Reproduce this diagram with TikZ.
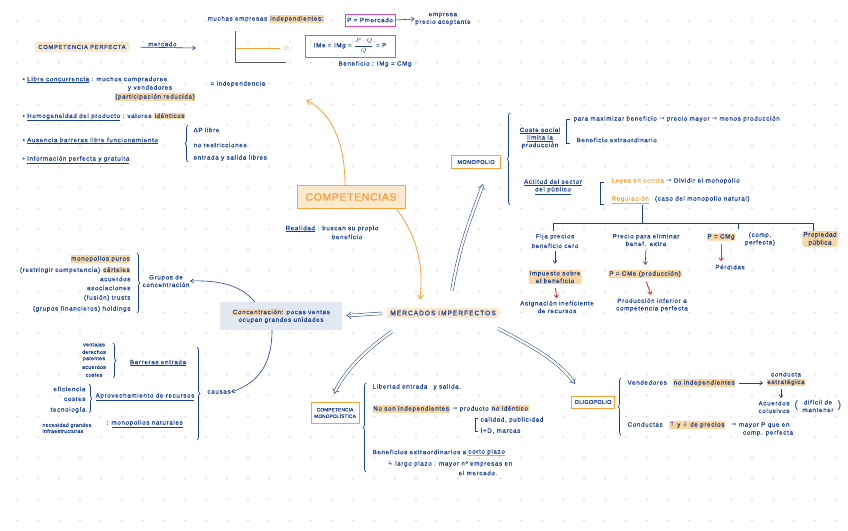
\documentclass[tikz,border=0pt]{standalone}
\usepackage{fontspec}
\setmainfont{Liberation Sans}
\newfontfamily\symf{DejaVu Sans}
\usetikzlibrary{arrows.meta,decorations.pathreplacing,calc}
\definecolor{ink}{HTML}{1A438F}
\definecolor{org}{HTML}{F5A33A}
\definecolor{hlc}{HTML}{FAD7A4}
\definecolor{hlc2}{HTML}{FCE8CF}
\definecolor{pnk}{HTML}{E04CA8}
\definecolor{lblue}{HTML}{E2E8F2}
\definecolor{redc}{HTML}{E8312F}
\definecolor{dotc}{HTML}{D6D6D6}
\definecolor{axc}{HTML}{5A5A5A}
\newcommand{\hlt}[1]{{\setlength{\fboxsep}{0.7pt}\colorbox{hlc}{#1}}}
\newcommand{\rarr}{{\symf →}}
\newcommand{\darr}{{\symf ↓}}
\newcommand{\uarr}{{\symf ↑}}
\newcommand{\Rarr}{{\symf ⇒}}
\newcommand{\hook}{{\symf ↳}}
\tikzset{
 tx/.style={text=ink, font=\fontsize{6.2}{7.6}\selectfont\addfontfeature{LetterSpace=11,FakeBold=0.4}, inner sep=0.4pt, align=center},
 sm/.style={tx, font=\fontsize{5.2}{6.2}\selectfont\addfontfeature{LetterSpace=6,FakeBold=0.4}},
 hlb/.style={tx, fill=hlc, rounded corners=1.5pt, inner sep=0.9pt},
 obox/.style={draw=org, line width=0.9pt, fill=white, tx, inner sep=1.5pt},
 pbox/.style={draw=pnk, line width=0.9pt, tx, inner sep=1.5pt},
 brc/.style={draw=ink, line width=0.7pt, decorate, decoration={brace, amplitude=3pt}},
 ln/.style={draw=ink, line width=0.7pt},
 dbl/.style={draw=ink, double=white, double distance=2.2pt, line width=0.5pt, -{Implies}},
 oarr/.style={draw=org, line width=0.8pt, -{Straight Barb[length=4pt,width=6pt]}},
 rarw/.style={draw=redc, line width=0.9pt, -{Straight Barb[length=2.5pt,width=4pt]}},
 barr/.style={draw=ink, line width=0.6pt, -{Straight Barb[length=3pt,width=4pt]}},
}
\begin{document}
\begin{tikzpicture}[x=1pt,y=-1pt]
\fill[white] (0,0) rectangle (848,530);
\useasboundingbox (0,0) rectangle (848,530);
% dot grid
\foreach \i in {0,...,39} \foreach \j in {0,...,24}
  \fill[dotc] (17+21*\i, 21+20.8*\j) circle (0.9);

% ---------- top: competencia perfecta ----------
\node[tx, anchor=west] (muchas) at (207,19) {muchas empresas \hlt{independientes:}};
\node[pbox, minimum width=50, minimum height=12] (pmerc) at (370,20) {P = Pmercado};
\node[tx] (acept) at (443,19) {empresa\\precio aceptante};
\draw[barr] (pmerc.east) -- (acept.west);

\node[tx, fill=hlc2, inner sep=3pt, font=\fontsize{5.8}{7}\selectfont\addfontfeature{LetterSpace=12,FakeBold=0.4}] (cperf) at (82,47) {COMPETENCIA PERFECTA};
\coordinate (mercE) at (196,48);
\draw[barr, shorten <=11pt] (cperf.east) -- (mercE) node[tx, midway, above=0.5pt] {mercado};

\coordinate (ax0) at (235,62);
\draw[axc, line width=0.9pt] (235,31) -- (ax0) -- (286,62);
\draw[org, line width=0.8pt] (236,48) -- (280,48);
\node[text=org, font=\fontsize{5.6}{7}\selectfont] (dlab) at (287,49) {D};

\node[pbox, minimum width=90, minimum height=22] (fbox) at (350,46) {IMe = IMg = $\displaystyle\frac{P\cdot Q}{Q}$ = P};
\node[tx] (benef) at (375,64) {Beneficio : IMg = CMg};

\node[tx, anchor=west] (b1) at (22,80) {• \underline{Libre concurrencia} : muchos compradores};
\node[tx] (b1b) at (150,88) {y vendedores};
\node[tx, anchor=west] (b1c) at (210,84) {= independencia};
\node[tx] (b1d) at (155,97) {\hlt{(participación reducida)}};
\node[tx, anchor=west] (b2) at (22,117) {• \underline{Homogeneidad del producto} : valores \hlt{idénticos}};
\node[tx, anchor=west] (b3) at (22,141) {• \underline{Ausencia barreras libre funcionamiento}};
\node[tx, anchor=west] (b4) at (22,160) {• \underline{Información perfecta y gratuita}};
\draw[brc] (188,162) -- (188,125);
\node[tx, anchor=west] (c1) at (193,130) {ΔP libre};
\node[tx, anchor=west] (c2) at (193,145) {no restricciones};
\node[tx, anchor=west] (c3) at (193,158) {entrada y salida libres};

% ---------- centre ----------
\node[draw=org, line width=1pt, fill=hlc2, text=org, font=\fontsize{10.5}{12}\selectfont\addfontfeature{LetterSpace=6,FakeBold=1}, minimum width=108, minimum height=23] (comp) at (351,197) {COMPETENCIAS};
\coordinate (compup) at (306,100);
\draw[oarr] ($(comp.north)+(-6,0)$) .. controls (345,140) and (330,112) .. (compup);

\node[tx] (real) at (332,229) {\underline{Realidad} : buscan su propio};
\node[tx] (real2) at (347,237) {beneficio};

\node[tx, fill=hlc2, font=\fontsize{6.6}{8}\selectfont\addfontfeature{LetterSpace=15,FakeBold=0.5}, inner sep=3pt] (merc) at (443,313) {MERCADOS IMPERFECTOS};
\draw[oarr] ($(comp.south east)+(-9,0)$) .. controls (420,240) and (423,270) .. ($(merc.north)+(-23,-8)$);

\node[tx, fill=lblue, minimum width=122, minimum height=28] (conc) at (281,316) {\hlt{Concentración:} pocas ventas\\ocupan grandes unidades};
\draw[dbl, shorten <=5pt, shorten >=4pt] (merc.west) -- (conc.east);

\node[obox, minimum width=49, minimum height=13, font=\fontsize{5.6}{7}\selectfont\addfontfeature{LetterSpace=6,FakeBold=0.4}] (mono) at (476,162) {MONOPOLIO};
\coordinate (monoin) at (483,184);
\draw[dbl] ($(merc.north)+(9,-17)$) .. controls (460,240) and (476,205) .. (monoin);

\node[obox, minimum width=48, minimum height=21, font=\fontsize{4.8}{6.5}\selectfont\addfontfeature{LetterSpace=3,FakeBold=0.4}] (cmono) at (335,413) {COMPETENCIA\\MONOPOLÍSTICA};
\coordinate (cmonoin) at (334,394);
\draw[dbl] ($(merc.south)+(-51,13)$) .. controls (368,348) and (345,370) .. (cmonoin);

\node[obox, minimum width=43, minimum height=12, font=\fontsize{5.6}{7}\selectfont\addfontfeature{LetterSpace=4,FakeBold=0.4}] (oli) at (593,402) {OLIGOPOLIO};
\coordinate (oliin) at (575,384);
\draw[dbl] ($(merc.south)+(55,10)$) .. controls (530,345) and (560,362) .. (oliin);

% ---------- grupos de concentracion ----------
\node[tx] (grupos) at (166,281) {Grupos de\\concentración};
\draw[barr] ($(conc.north west)+(35,0)$) .. controls (242,287) and (224,280) .. (grupos.east);
\draw[brc] (137,253) -- (137,313);
\node[tx, anchor=east] (g1) at (131,259) {\hlt{monopolios puros}};
\node[tx, anchor=east] (g2) at (131,270) {(restringir competencia) \hlt{cárteles}};
\node[tx, anchor=east] (g3) at (131,279) {acuerdos};
\node[tx, anchor=east] (g4) at (131,288) {asociaciones};
\node[tx, anchor=east] (g5) at (131,298) {(fusión) trusts};
\node[tx, anchor=east] (g6) at (131,309) {(grupos financieros) holdings};

% ---------- causas ----------
\node[tx] (causas) at (219,392) {causas};
\draw[barr] ($(conc.south)+(-9,0)$) .. controls (272,365) and (258,383) .. (causas.east);
\draw[brc] (197,347) -- (197,440);
\draw[brc] (113,343) -- (113,378);
\node[sm] (v1) at (94,345) {ventajas};
\node[sm] (v2) at (94,352) {derechos};
\node[sm] (v3) at (94,359) {patentes};
\node[sm] (v4) at (94,367) {acuerdos};
\node[sm] (v5) at (94,375) {costes};
\node[tx] (barrent) at (158,363) {\underline{Barreras entrada}};
\draw[brc] (89,384) -- (89,413);
\node[tx, anchor=east] (e1) at (86,389) {eficiencia};
\node[tx, anchor=east] (e2) at (86,399) {costes};
\node[tx, anchor=east] (e3) at (86,410) {tecnología};
\node[tx] (aprov) at (145,397) {\underline{Aprovechamiento de recursos}};
\node[sm, anchor=west, align=left] (nec) at (42,428) {necesidad grandes\\infraestructuras};
\node[tx, anchor=west] (natur) at (106,424) {: \underline{monopolios naturales}};

% ---------- monopolio ----------
\draw[brc] (510,205) -- (510,113);
\node[tx] (coste) at (540,138) {\underline{Coste social}\\\underline{limita la}\\producción};
\draw[ln] (570,119) -- (566,119) -- (566,143) -- (570,143);
\node[tx, anchor=west] (maxi) at (573,119) {para maximizar beneficio \rarr{} precio mayor \rarr{} menos producción};
\node[tx, anchor=west] (extra) at (576,140) {Beneficio extraordinario};
\node[tx] (actit) at (553,187) {\underline{Actitud del sector}\\\underline{del público}};
\draw[ln] (604,182) -- (600,182) -- (600,204) -- (604,204);
\node[tx, anchor=west] (leyes) at (611,181) {\textcolor{org}{Leyes en contra} \rarr{} Dividir el monopolio};
\node[tx, anchor=west] (regul) at (611,200) {\textcolor{org}{\underline{Regulación}}\quad (caso del monopolio natural)};
\coordinate (rg) at (642,205);
\draw[ln] (rg) -- (642,223);
\draw[ln] (553,231) -- (553,223) -- (813,223) -- (813,231);
\draw[ln] (738,223) -- (738,229);

\node[tx] (f1) at (555,241) {Fija precios\\[2pt]beneficio cero};
\node[hlb] (imp) at (555,277) {Impuesto sobre\\el beneficio};
\draw[barr, shorten <=2pt, shorten >=6pt] (f1.south) -- (imp.north);
\node[tx] (asig) at (557,307) {Asignación ineficiente\\de recursos};
\draw[rarw, shorten <=4pt, shorten >=2pt] (imp.south) -- (asig.north);

\node[tx] (p2) at (646,240) {Precio para eliminar\\benef. extra};
\node[hlb] (pcme) at (645,274) {P = CMe (producción)};
\draw[barr, shorten <=3pt, shorten >=5pt] (p2.south) -- (pcme.north);
\node[tx] (prodinf) at (652,305) {Producción inferior a\\competencia perfecta};
\draw[rarw, shorten <=4pt, shorten >=3pt] (pcme.south) -- (prodinf.north);

\node[hlb] (p3a) at (721,237) {P = CMg};
\node[tx] (p3b) at (760,239) {(comp.\\perfecta)};
\node[tx] (perd) at (730,267) {Pérdidas};
\draw[rarw, shorten <=3pt, shorten >=3pt] (p3a.south) -- (p3a.south |- perd.north);
\node[hlb, font=\fontsize{6.6}{8}\selectfont\addfontfeature{LetterSpace=6,FakeBold=0.4}] (prop) at (820,239) {Propiedad\\pública};

% ---------- competencia monopolistica ----------
\draw[brc] (366,472) -- (366,383);
\node[tx, anchor=west] (lib) at (372,387) {Libertad entrada\quad y salida.};
\node[tx, anchor=west] (nosn) at (372,409) {\hlt{No son independientes} \rarr{} producto \hlt{no idéntico}};
\draw[ln] (478,418) -- (475,418) -- (475,431) -- (478,431);
\node[tx, anchor=west] (cal) at (480,420) {calidad, publicidad};
\node[tx, anchor=west] (imd) at (480,431) {I+D, marcas};
\node[tx, anchor=west] (benex) at (372,452) {Beneficios extraordinarios a};
\node[tx, anchor=west] (corto) at (benex.east) {\,corto plazo};
\draw[org, line width=0.9pt] (corto.south west) -- (corto.south east);
\node[tx, anchor=west] (largo) at (387,464) {\hook\ largo plazo : mayor nº empresas en};
\node[tx] (elmerc) at (478,473) {el mercado.};

% ---------- oligopolio ----------
\draw[brc] (621,435) -- (621,378);
\node[tx, anchor=west] (vend) at (627,383) {Vendedores\quad\hlt{no independientes}};
\node[tx] (cond) at (786,379) {conducta\\\hlt{estratégica}};
\draw[barr, shorten <=3pt, shorten >=3pt] (vend.east) -- (vend.east -| cond.west);
\node[tx] (acu) at (774,407) {Acuerdos\\colusivos};
\draw[barr, shorten <=2pt, shorten >=2pt] (cond.south -| acu.north) ++(7,0) coordinate (ca) (ca) -- (ca |- acu.north);
\node[tx] (dif) at (818,406) {difícil de\\mantener};
\node[text=ink, font=\fontsize{11}{12}\selectfont, anchor=east] (lp) at (dif.west) {(};
\node[text=ink, font=\fontsize{11}{12}\selectfont, anchor=west] (rp) at (dif.east) {)};
\node[tx, anchor=west] (condu) at (627,425) {Conductas\quad\hlt{\uarr{} y \darr{} de precios}\quad\Rarr{} mayor P que en};
\node[tx] (compp) at (768,433) {comp. perfecta};
\end{tikzpicture}
\end{document}
